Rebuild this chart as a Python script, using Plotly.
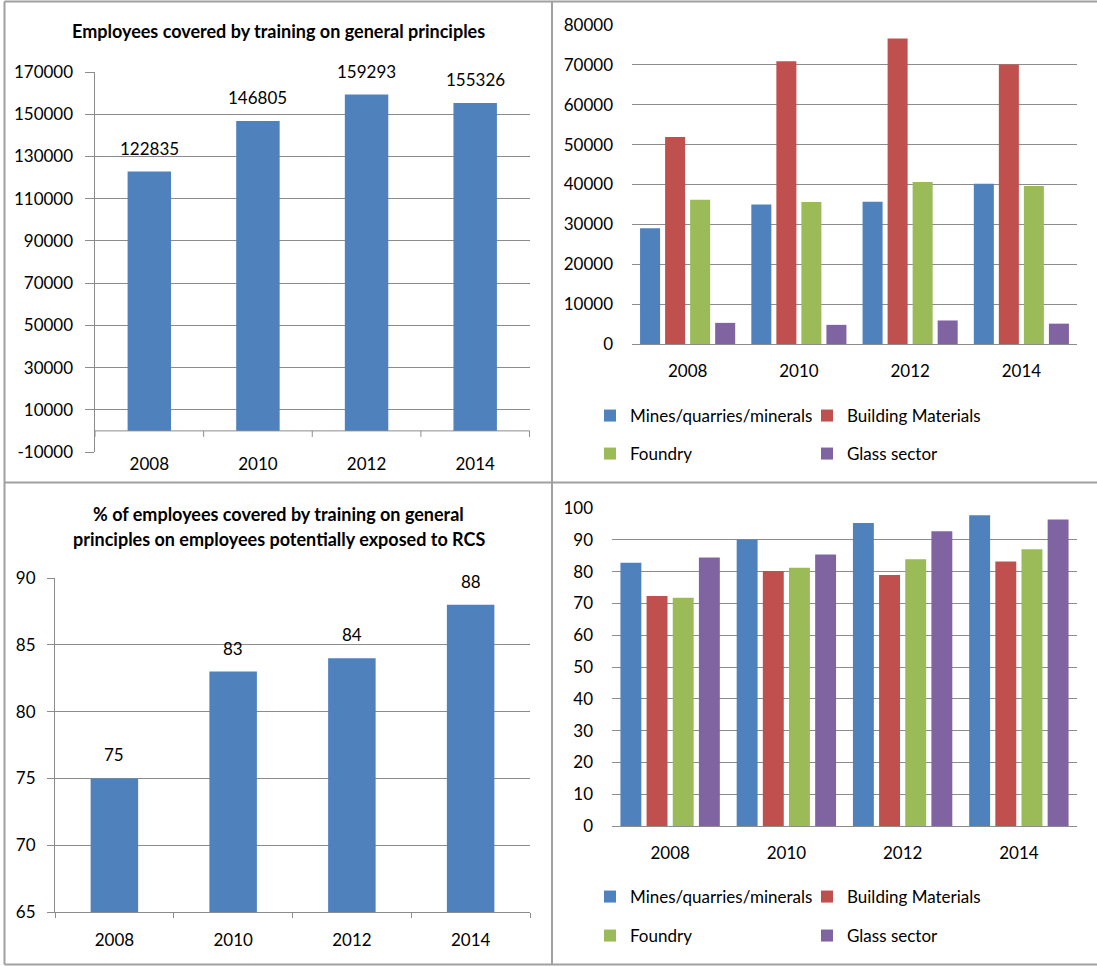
import plotly.graph_objects as go

# ---- data -------------------------------------------------------------
years = ["2008", "2010", "2012", "2014"]

# employees covered by training on general principles (total)
covered_total = [122835, 146805, 159293, 155326]

# share of employees covered, on those potentially exposed to RCS (%)
covered_pct = [75, 83, 84, 88]

sectors = ["Mines/quarries/minerals", "Building Materials", "Foundry", "Glass sector"]
sector_colors = ["#4F81BD", "#C0504D", "#9BBB59", "#8064A2"]

# employees covered per sector
mines_abs = [29000, 35000, 35700, 40200]
building_abs = [51900, 70900, 76600, 70100]
foundry_abs = [36200, 35600, 40600, 39600]
glass_abs = [5300, 4800, 5900, 5100]

# % covered per sector
mines_pct = [82.8, 90.1, 95.3, 97.7]
building_pct = [72.3, 80.2, 78.9, 83.2]
foundry_pct = [71.8, 81.2, 83.9, 87.0]
glass_pct = [84.4, 85.4, 92.7, 96.4]

# y tick values of the totals chart (starts below zero)
total_ticks = [-10000, 10000, 30000, 50000, 70000, 90000, 110000, 130000, 150000, 170000]

title_top = "Employees covered by training on general principles"
title_bottom = ["% of employees covered by training on general",
                "principles on employees potentially exposed to RCS"]

# ---- layout helpers -----------------------------------------------------
W, H = 1097, 966
FONT = "Lato"
GRID = "#8C8C8C"
BORDER = "#A0A0A0"
BLUE = "#4F81BD"
TICK_SIZE = 17
LEGEND_SIZE = 17
TITLE_SIZE = 18


def fx(p):
    return p / W


def fy(p):
    return 1 - p / H


fig = go.Figure()

# top-left: totals
fig.add_trace(go.Bar(x=years, y=covered_total, marker_color=BLUE, width=0.4,
                     xaxis="x", yaxis="y", showlegend=False))
# bottom-left: percentage
fig.add_trace(go.Bar(x=years, y=covered_pct, marker_color=BLUE, width=0.4,
                     xaxis="x3", yaxis="y3", showlegend=False))

# right-hand panels: per-sector grouped bars
abs_series = [mines_abs, building_abs, foundry_abs, glass_abs]
pct_series = [mines_pct, building_pct, foundry_pct, glass_pct]
for i, (name, col, vals) in enumerate(zip(sectors, sector_colors, abs_series)):
    fig.add_trace(go.Bar(x=years, y=vals, name=name, marker_color=col,
                         xaxis="x2", yaxis="y2",
                         legend="legend" if i < 2 else "legend2"))
for i, (name, col, vals) in enumerate(zip(sectors, sector_colors, pct_series)):
    fig.add_trace(go.Bar(x=years, y=vals, name=name, marker_color=col,
                         xaxis="x4", yaxis="y4",
                         legend="legend3" if i < 2 else "legend4"))

tick_font = dict(family=FONT, size=TICK_SIZE, color="#000000")


def yaxis_common(**kw):
    d = dict(showgrid=True, gridcolor=GRID, gridwidth=1, zeroline=False,
             tickfont=tick_font, automargin=False, fixedrange=True)
    d.update(kw)
    return d


def xaxis_common(**kw):
    d = dict(type="category", showgrid=False, zeroline=False, tickfont=tick_font,
             automargin=False, tickangle=0, fixedrange=True)
    d.update(kw)
    return d


layout_axes = dict(
    # top-left
    xaxis=xaxis_common(domain=[fx(94.5), fx(530)], anchor="y", showline=False,
                       ticks="", ticklabelstandoff=0),
    yaxis=yaxis_common(domain=[fy(452), fy(72)], anchor="x", range=[-10000, 170000],
                       tickmode="array", tickvals=total_ticks,
                       ticktext=[str(v) for v in total_ticks],
                       showline=True, linecolor=GRID,
                       ticks="outside", ticklen=9, tickcolor=GRID,
                       ticklabelstandoff=8),
    # top-right
    xaxis2=xaxis_common(domain=[fx(632), fx(1077)], anchor="y2", showline=True,
                        linecolor=GRID, ticks="", ticklabelstandoff=12),
    yaxis2=yaxis_common(domain=[fy(344), fy(25)], anchor="x2", range=[0, 80000],
                        tickmode="linear", tick0=0, dtick=10000, tickformat="d",
                        showline=False, ticks="", ticklabelstandoff=18),
    # bottom-left
    xaxis3=xaxis_common(domain=[fx(55), fx(530)], anchor="y3", showline=True,
                        linecolor=GRID, ticks="outside", tickson="boundaries",
                        ticklen=5, tickcolor=GRID, ticklabelstandoff=13),
    yaxis3=yaxis_common(domain=[fy(912), fy(578)], anchor="x3", range=[65, 90],
                        tickmode="linear", tick0=65, dtick=5, tickformat="d",
                        showline=True, linecolor=GRID,
                        ticks="outside", ticklen=7, tickcolor=GRID,
                        ticklabelstandoff=8),
    # bottom-right
    xaxis4=xaxis_common(domain=[fx(612), fx(1077)], anchor="y4", showline=True,
                        linecolor=GRID, ticks="", ticklabelstandoff=12),
    yaxis4=yaxis_common(domain=[fy(826), fy(508)], anchor="x4", range=[0, 100],
                        tickmode="linear", tick0=0, dtick=10, tickformat="d",
                        showline=False, ticks="", ticklabelstandoff=18),
)

# value labels above the single-series bars (x given as category index)
annotations = []
for xa, ya, vals in (("x", "y", covered_total), ("x3", "y3", covered_pct)):
    for i, v in enumerate(vals):
        annotations.append(dict(x=i, y=v, xref=xa, yref=ya, text=str(v),
                                showarrow=False, xanchor="center", yanchor="bottom",
                                yshift=11, font=tick_font))

# chart titles
title_font = dict(family=FONT, size=TITLE_SIZE, color="#000000")
annotations.append(dict(x=fx(278.5), y=fy(31), xref="paper", yref="paper",
                        text="<b>%s</b>" % title_top, showarrow=False,
                        xanchor="center", yanchor="middle", font=title_font))
for line, ypix in zip(title_bottom, (514, 539)):
    annotations.append(dict(x=fx(278.5), y=fy(ypix), xref="paper", yref="paper",
                            text="<b>%s</b>" % line, showarrow=False,
                            xanchor="center", yanchor="middle", font=title_font))

shapes = []
# baseline of the top-left chart sits at zero, with ticks between categories
n = len(years)
shapes.append(dict(type="line", xref="x", yref="y", x0=-0.5, x1=n - 0.5, y0=0, y1=0,
                   line=dict(color=GRID, width=1)))
for i in range(n + 1):
    shapes.append(dict(type="line", xref="x", yref="y", x0=i - 0.5, x1=i - 0.5,
                       ysizemode="pixel", yanchor=0, y0=0, y1=-6,
                       line=dict(color=GRID, width=1)))

# panel frames
frame = dict(color=BORDER, width=2)
for ypix in (1.5, 482.5, 964.5):
    shapes.append(dict(type="line", xref="paper", yref="paper", x0=fx(4.5), x1=1,
                       y0=fy(ypix), y1=fy(ypix), line=frame))
for xpix in (4.5, 552):
    shapes.append(dict(type="line", xref="paper", yref="paper", x0=fx(xpix), x1=fx(xpix),
                       y0=fy(1.5), y1=fy(964.5), line=frame))


def legend_at(ypix):
    return dict(orientation="h", x=fx(590), xanchor="left", y=fy(ypix), yanchor="middle",
                entrywidth=172, entrywidthmode="pixels", bgcolor="rgba(0,0,0,0)",
                font=dict(family=FONT, size=LEGEND_SIZE, color="#000000"),
                itemclick=False, itemdoubleclick=False)


fig.update_layout(
    template="none",
    width=W, height=H,
    margin=dict(l=0, r=0, t=0, b=0, pad=0, autoexpand=False),
    paper_bgcolor="white", plot_bgcolor="white",
    font=dict(family=FONT, color="#000000"),
    barmode="group", bargap=0.1, bargroupgap=0.2,
    annotations=annotations, shapes=shapes,
    legend=legend_at(416), legend2=legend_at(454),
    legend3=legend_at(897), legend4=legend_at(936),
    **layout_axes,
)

fig.write_html("out.html")
